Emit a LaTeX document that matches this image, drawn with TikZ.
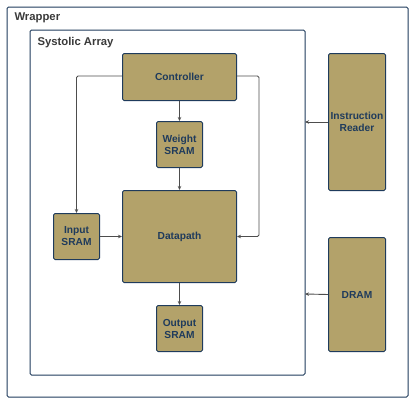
\documentclass[tikz,border=0pt]{standalone}
\usepackage{fontspec}
\setmainfont{Liberation Sans}
\usetikzlibrary{arrows.meta}
\definecolor{blockfill}{HTML}{B3A26A}
\definecolor{blockline}{HTML}{1F3B5C}
\definecolor{titlegray}{HTML}{3A3A3A}
\definecolor{wiregray}{HTML}{4D4D4D}

\begin{document}
\begin{tikzpicture}[x=1pt, y=-1pt,
    block/.style={draw=blockline, line width=1pt, fill=blockfill, rounded corners=1.5pt,
                  text=blockline, font=\bfseries\fontsize{10.2}{12}\selectfont, align=center,
                  inner sep=0pt, anchor=north west},
    frame/.style={draw=blockline, line width=1pt, rounded corners=1.5pt},
    wire/.style={draw=wiregray, line width=0.9pt, -{Stealth[length=4pt,width=3.5pt]}}]
  \useasboundingbox (0,0) rectangle (413,402);
  % outer boxes
  \draw[frame] (7,7) rectangle (408,397);
  \node[anchor=north west, text=titlegray, font=\bfseries\fontsize{11.3}{13}\selectfont] (wraptitle) at (11,9) {Wrapper};
  \draw[frame] (30,30) rectangle (305,375);
  \coordinate (sairtop) at (305,122);
  \coordinate (sairbot) at (305,294);
  \node[anchor=north west, text=titlegray, font=\bfseries\fontsize{11.3}{13}\selectfont] (satitle) at (34,34) {Systolic Array};
  % blocks
  \node[block, minimum width=114pt, minimum height=47pt] (ctrl) at (122,53) {Controller};
  \node[block, minimum width=46pt, minimum height=46pt] (wsram) at (156,121) {Weight\\SRAM};
  \node[block, minimum width=114pt, minimum height=92pt] (dpath) at (122,190) {Datapath};
  \node[block, minimum width=46pt, minimum height=46pt] (isram) at (53,213) {Input\\SRAM};
  \node[block, minimum width=46pt, minimum height=46pt] (osram) at (156,305) {Output\\SRAM};
  \node[block, minimum width=57pt, minimum height=137pt] (ireader) at (328,53) {Instruction\\Reader};
  \node[block, minimum width=57pt, minimum height=114pt] (dram) at (328,237) {DRAM};
  % connectors
  \draw[wire] (ctrl) -- (wsram);
  \draw[wire] (wsram) -- (dpath);
  \draw[wire] (dpath) -- (osram);
  \draw[wire] (isram) -- (isram -| dpath.west);
  \draw[wire, rounded corners=1.5pt] (ctrl.west |- 0,76) -| (isram.north);
  \draw[wire, rounded corners=1.5pt] (ctrl.east |- 0,76) -- (259,76) |- (dpath.east);
  \draw[wire] (ireader.west) -- (sairtop);
  \draw[wire] (dram.west) -- (sairbot);
\end{tikzpicture}
\end{document}
